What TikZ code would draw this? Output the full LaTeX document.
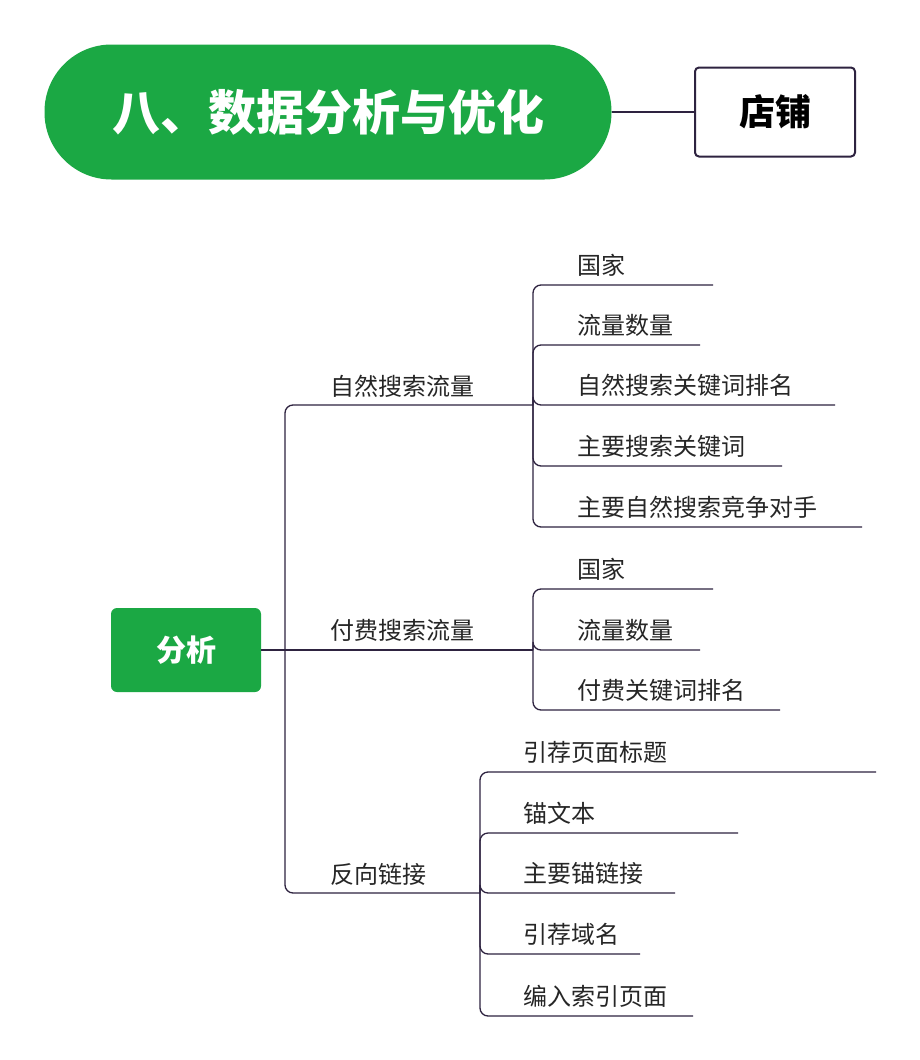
\documentclass[tikz,border=0pt]{standalone}
\usepackage{fontspec}
\setmainfont{Noto Sans CJK SC}
\definecolor{gr}{HTML}{1BA844}
\definecolor{ln}{HTML}{2E2340}
\begin{document}
\begin{tikzpicture}[x=1pt,y=-1pt,
  leaf/.style={anchor=south west,inner sep=0pt,font=\fontsize{24}{24}\selectfont,text=black!85},
  conn/.style={draw=ln,line width=1.3pt,rounded corners=8pt}]
\useasboundingbox[fill=white] (0,0) rectangle (920,1060);
\node[fill=gr,rounded corners=67pt,minimum width=567pt,minimum height=135pt,text=white,font=\fontsize{48}{48}\selectfont\bfseries] (title) at (328,112) {八、数据分析与优化};
\node[draw=ln,line width=2pt,rounded corners=4pt,minimum width=160pt,minimum height=89pt,font=\fontsize{36}{36}\selectfont\bfseries] (shop) at (775,112) {店铺};
\draw[ln,line width=2pt] (title.east) -- (shop.west);
\node[fill=gr,rounded corners=6pt,minimum width=150pt,minimum height=84pt,text=white,font=\fontsize{30}{30}\selectfont\bfseries] (fx) at (186,650) {分析};
\coordinate (t) at (285,650);
\draw[conn] (fx.east) -- (t);
% branches
\coordinate (nj) at (533,405);\coordinate (pj) at (533,650);\coordinate (bj) at (480,893);
\draw[conn] (t) |- (nj);
\draw[conn] (fx.east) -- (pj);
\draw[conn] (t) |- (bj);
\node[leaf] (n) at (330,398) {自然搜索流量};
\node[leaf] (p) at (330,642) {付费搜索流量};
\node[leaf] (b) at (330,886) {反向链接};
% natural
\foreach \y/\e/\t in {285/713/国家/地区,345/700/流量数量,405/835/自然搜索关键词排名,466/782/主要搜索关键词,527/862/主要自然搜索竞争对手}{
  \coordinate (e) at (\e,\y);
  \draw[conn] (nj) |- (e);
  \node[leaf] at (577,\y-8) {\t};}
\foreach \y/\e/\t in {589/713/国家/地区,650/700/流量数量,710/780/付费关键词排名}{
  \coordinate (e) at (\e,\y);
  \draw[conn] (pj) |- (e);
  \node[leaf] at (577,\y-8) {\t};}
\foreach \y/\e/\t in {772/876/引荐页面标题/引荐页面链接,833/738/锚文本/URL链接,893/675/主要锚链接,954/640/引荐域名,1016/693/编入索引页面}{
  \coordinate (e) at (\e,\y);
  \draw[conn] (bj) |- (e);
  \node[leaf] at (523,\y-8) {\t};}
\end{tikzpicture}
\end{document}
